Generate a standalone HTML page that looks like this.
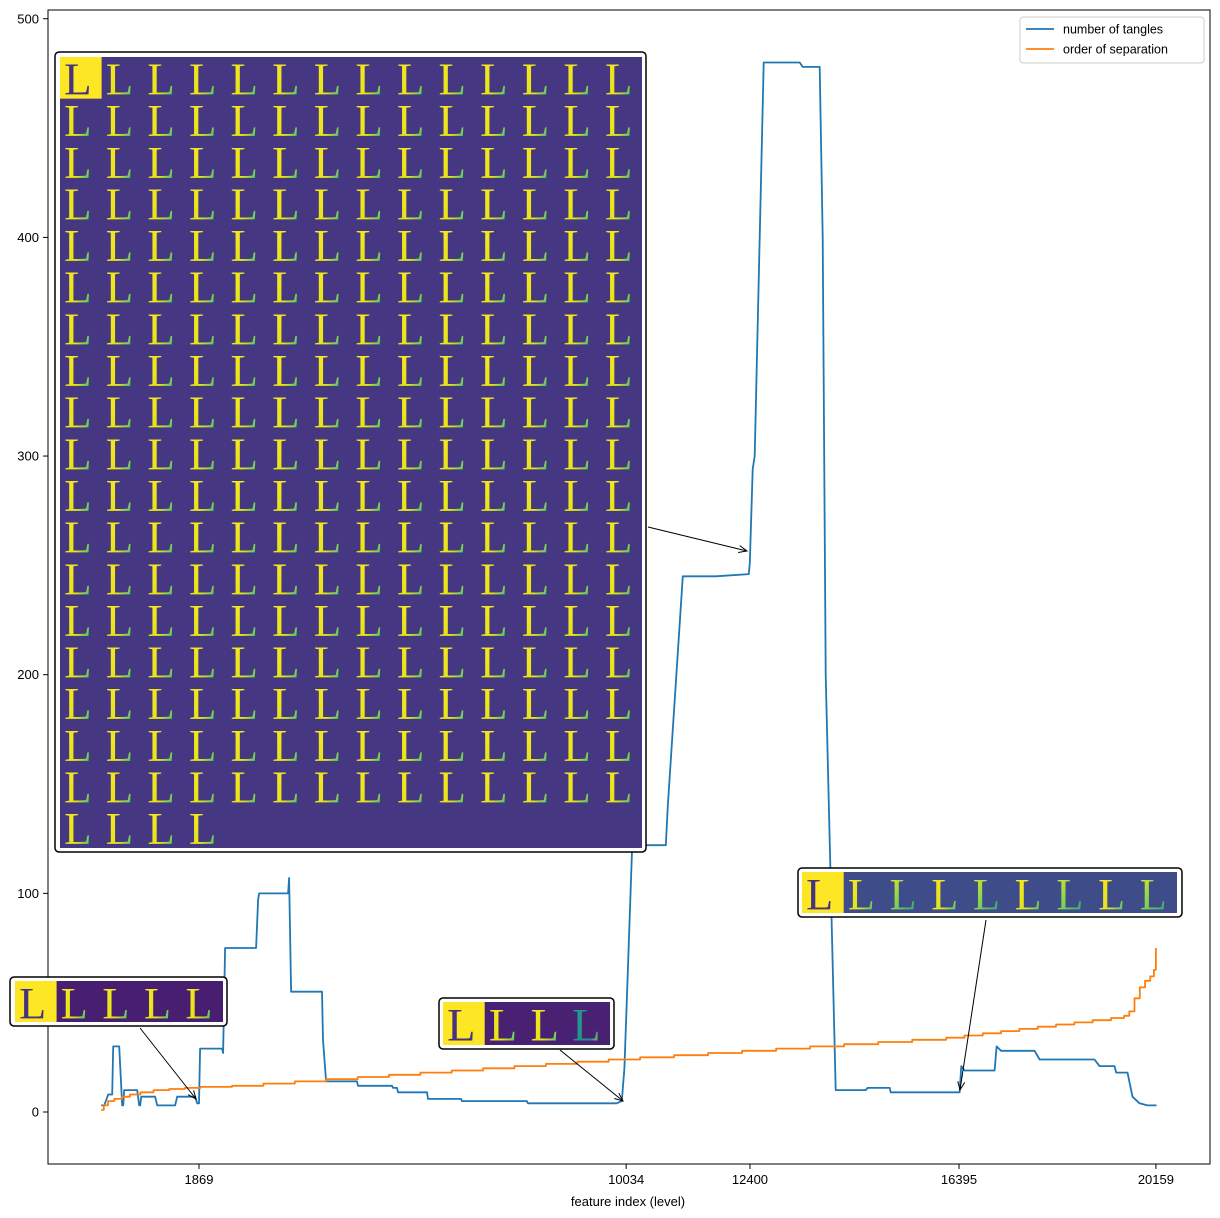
<!DOCTYPE html>
<html><head><meta charset="utf-8"><style>
body{margin:0;background:#fff;}
svg{display:block;font-family:"Liberation Sans",sans-serif;}
</style></head><body>
<svg id="chart" width="1220" height="1218" viewBox="0 0 1220 1218" xmlns="http://www.w3.org/2000/svg">
<defs>
<linearGradient id="lgY" x1="0" y1="0" x2="1" y2="1"><stop offset="0" stop-color="#fde725"/><stop offset="0.6" stop-color="#e2e418"/><stop offset="0.82" stop-color="#5ec962"/><stop offset="1" stop-color="#21918c"/></linearGradient>
<linearGradient id="lgG" x1="0" y1="0" x2="1" y2="1"><stop offset="0" stop-color="#fde725"/><stop offset="0.5" stop-color="#7ad151"/><stop offset="1" stop-color="#21918c"/></linearGradient>
<linearGradient id="lgT" x1="0" y1="0" x2="1" y2="1"><stop offset="0" stop-color="#2a9a88"/><stop offset="0.7" stop-color="#21918c"/><stop offset="1" stop-color="#fde725"/></linearGradient>
</defs>
<rect x="48" y="10" width="1162" height="1154" fill="none" stroke="#000" stroke-width="1"/>
<g id="axes"></g>
<g id="series"></g>
<g id="insets"></g>
<g>
<rect x="1020" y="17" width="184" height="46" rx="3" fill="#fff" stroke="#ccc"/>
<line x1="1026" y1="29" x2="1054" y2="29" stroke="#1f77b4" stroke-width="1.8"/>
<text x="1063" y="33.5" font-size="12.5">number of tangles</text>
<line x1="1026" y1="49" x2="1054" y2="49" stroke="#ff7f0e" stroke-width="1.8"/>
<text x="1063" y="53.5" font-size="12.5">order of separation</text>
</g>
<text x="628" y="1206" font-size="13" text-anchor="middle">feature index (level)</text>
</svg>
<script>
const yTicks=[0,100,200,300,400,500];
const xTicks=[1869,10034,12400,16395,20159];
const tanglesX=[0,57,134,210,230,344,401,420,439,688,726,745,764,1031,1070,1413,1452,1795,1834,1870,1891,2311,2330,2368,2961,2999,3018,3572,3591,3629,4221,4240,4298,4890,4909,5558,5577,5654,5673,6227,6246,6876,6895,8137,8156,9850,9950,10000,10060,10150,10792,10830,11116,11747,12377,12396,12453,12491,12663,13351,13408,13733,13790,13848,14039,14612,14650,15070,15090,15643,16407,16440,16502,17075,17114,17200,17840,17935,18985,19081,19367,19400,19616,19711,19845,19998,20170];
const tanglesY=[3,3,8,8,30,30,3,3,10,10,3,3,7,7,3,3,7,7,4,4,29,29,27,75,75,97,100,100,107,55,55,33,14,14,12,12,11,11,9,9,6,6,5,5,4,4,5,20,60,122,122,140,245,245,246,251,294,300,480,480,478,478,400,200,10,10,11,11,9,9,9,21,19,19,30,28,28,24,24,21,21,18,18,7,4,3,3];
const orderX=[0,50,130,250,400,550,750,1000,1300,1600,1900,2500,3100,3700,4300,4900,5500,6100,6700,7300,7900,8500,9100,9700,10300,10950,11600,12250,12900,13550,14200,14850,15500,16150,16500,16850,17200,17550,17900,18250,18600,18950,19300,19550,19650,19750,19850,19950,20050,20120,20159];
const orderY=[1,3,5,6,7,8,9,10,10.5,11,11.5,12,13,14,15,16,17,18,19,20,21,22,23,24,25,26,27,28,29,30,31,32,33,34,35,36,37,38,39,40,41,42,43,44,46,52,57,60,62,65,75];
const NS="http://www.w3.org/2000/svg";
const xs=f=>101.2+f*0.05232;
const ys=v=>1112-v*2.1865;
function mk(tag,attrs,parent,txt){const e=document.createElementNS(NS,tag);for(const k in attrs)e.setAttribute(k,attrs[k]);if(txt!==undefined)e.textContent=txt;parent.appendChild(e);return e;}
const axes=document.getElementById('axes');
yTicks.forEach(t=>{
  const l=mk('line',{x1:43,x2:48,y1:ys(t),y2:ys(t),stroke:'#000'},axes);
  
  
  const tx=mk('text',{x:39,y:ys(t)+4.5,'font-size':13,'text-anchor':'end'},axes,String(t));
  
  
});
xTicks.forEach(t=>{
  const l=mk('line',{x1:xs(t),x2:xs(t),y1:1164,y2:1169,stroke:'#000'},axes);
  
  
  const tx=mk('text',{x:xs(t),y:1184,'font-size':13,'text-anchor':'middle'},axes,String(t));
  
  
});
const series=document.getElementById('series');
let d='';tanglesX.forEach((f,i)=>{d+=(i?'L':'M')+xs(f).toFixed(1)+','+ys(tanglesY[i]).toFixed(1);});
const p1=mk('path',{d:d,fill:'none',stroke:'#1f77b4','stroke-width':1.8,'stroke-linejoin':'round'},series);


let d2='';orderX.forEach((f,i)=>{if(i===0)d2+='M'+xs(f).toFixed(1)+','+ys(orderY[i]).toFixed(1);else d2+='L'+xs(f).toFixed(1)+','+ys(orderY[i-1]).toFixed(1)+'L'+xs(f).toFixed(1)+','+ys(orderY[i]).toFixed(1);});
const p2=mk('path',{d:d2,fill:'none',stroke:'#ff7f0e','stroke-width':1.8,'stroke-linejoin':'round'},series);



const insets=document.getElementById('insets');
function inset(name,bx,by,bw,bh,ix,iy,cw,ch,cols,n,bg,fills,ax1,ay1,ax2,ay2,iw,ih){
  const g=mk('g',{},insets);
  
  
  const ar=mk('line',{x1:ax1,y1:ay1,x2:ax2,y2:ay2,stroke:'#000','stroke-width':1},g);
  
  
  const ang=Math.atan2(ay2-ay1,ax2-ax1);
  const hp=[ax2-9*Math.cos(ang-0.4),ay2-9*Math.sin(ang-0.4)],hq=[ax2-9*Math.cos(ang+0.4),ay2-9*Math.sin(ang+0.4)];
  mk('path',{d:`M${hp[0]},${hp[1]}L${ax2},${ay2}L${hq[0]},${hq[1]}`,fill:'none',stroke:'#000','stroke-width':1},g);
  const b=mk('rect',{x:bx,y:by,width:bw,height:bh,rx:4,fill:'#fff',stroke:'#000','stroke-width':1.5},g);
  
  
  mk('rect',{x:ix,y:iy,width:iw,height:ih,fill:bg},g);
  for(let k=0;k<n;k++){
    const c=k%cols,r=Math.floor(k/cols);
    const x=ix+c*cw,y=iy+r*ch;
    if(k===0) mk('rect',{x:x,y:y,width:cw,height:ch,fill:'#fde725'},g);
    const t=mk('text',{x:x+cw*0.1,y:y+ch*0.9,'font-size':ch*1.08,'font-family':'Liberation Serif, serif',fill:k===0?'#46327e':fills[k%fills.length]},g,'L');
    
    
  }
}
inset('large-inset',55,52,591,800,60,57,41.6,41.65,14,256,'#453781',['url(#lgY)'],648,527,747,551,582,791);
inset('left-inset',10,977,217,49,15,981,41.6,41,5,5,'#481f70',['url(#lgY)'],140,1028,196,1099,208,41);
inset('middle-inset',439,998,175,51,443,1002,41.7,43,4,4,'#482173',['url(#lgY)','url(#lgY)','url(#lgY)','url(#lgT)'],560,1050,623,1101,167,43);
inset('right-inset',798,868,384,49,802,872,41.7,41,9,9,'#3e4c8a',['url(#lgG)','url(#lgY)'],986,920,960,1090,375,41);
</script>
</body></html>
